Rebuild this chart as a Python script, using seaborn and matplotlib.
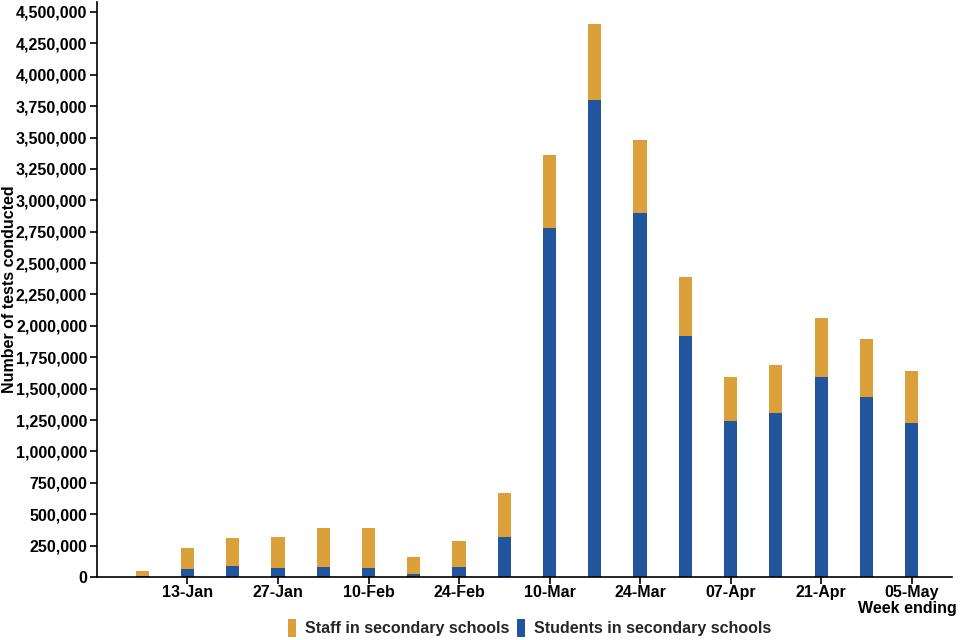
import matplotlib
matplotlib.use("Agg")
import matplotlib.pyplot as plt
import seaborn as sns
import pandas as pd
from matplotlib.patches import Patch
from matplotlib.ticker import FuncFormatter, MultipleLocator

weeks = ["06-Jan", "13-Jan", "20-Jan", "27-Jan", "03-Feb", "10-Feb", "17-Feb", "24-Feb",
         "03-Mar", "10-Mar", "17-Mar", "24-Mar", "31-Mar", "07-Apr", "14-Apr", "21-Apr",
         "28-Apr", "05-May"]
students = [5000, 61000, 88000, 72000, 80000, 75000, 24000, 77000, 316000, 2778000,
            3798000, 2898000, 1916000, 1240000, 1306000, 1590000, 1436000, 1226000]
totals = [45000, 228000, 310000, 316000, 388000, 388000, 159000, 284000, 669000, 3360000,
          4403000, 3479000, 2392000, 1590000, 1691000, 2060000, 1893000, 1638000]
staff = [t - s for t, s in zip(totals, students)]

staff_color = "#DCA03A"
student_color = "#21559E"

sns.set_theme(style="white")
plt.rcParams["font.family"] = ["Liberation Sans", "DejaVu Sans"]
plt.rcParams["font.weight"] = "bold"

df = pd.DataFrame({"week": weeks, "students": students, "staff": staff,
                   "total": [s + f for s, f in zip(students, staff)]})

fig = plt.figure(figsize=(9.6, 6.4), dpi=100)
ax = fig.add_axes([0.101, 0.0984, 0.891, 0.8986])

sns.barplot(data=df, x="week", y="total", color=staff_color, width=0.29,
            saturation=1, ax=ax, order=weeks, linewidth=0, edgecolor="none")
sns.barplot(data=df, x="week", y="students", color=student_color, width=0.29,
            saturation=1, ax=ax, order=weeks, linewidth=0, edgecolor="none")

ax.set_xlim(-1.0, 17.9)
ax.set_ylim(0, 4580000)
ax.yaxis.set_major_locator(MultipleLocator(250000))
ax.yaxis.set_major_formatter(FuncFormatter(lambda v, p: f"{int(v):,}"))

ax.set_xticks(range(1, len(weeks), 2))
ax.set_xticklabels([weeks[i] for i in range(1, len(weeks), 2)])

for sp in ["top", "right"]:
    ax.spines[sp].set_visible(False)
for sp in ["left", "bottom"]:
    ax.spines[sp].set_color("black")
    ax.spines[sp].set_linewidth(1.2)

ax.tick_params(axis="both", which="major", length=5, width=1.2, color="black",
               labelsize=11.5, labelcolor="black", left=True, bottom=True, pad=2)
ax.tick_params(axis="x", pad=1)
for lab in ax.get_xticklabels() + ax.get_yticklabels():
    lab.set_fontweight("bold")

ax.set_xlabel("")
ax.set_ylabel("Number of tests conducted", fontsize=11.5, fontweight="bold",
              color="black")
ax.yaxis.set_label_coords(-0.094, 0.5)

fig.text(0.997, 1 - 609 / 640, "Week ending", ha="right", va="center",
         fontsize=11.5, fontweight="bold", color="black")

handles = [Patch(facecolor=staff_color, edgecolor="none", label="Staff in secondary schools"),
           Patch(facecolor=student_color, edgecolor="none", label="Students in secondary schools")]
fig.legend(handles=handles, loc="center", bbox_to_anchor=(0.552, 1 - 628 / 640), ncol=2,
           frameon=False, handlelength=0.45, handleheight=1.3,
           handletextpad=0.6, columnspacing=0.5, prop={"weight": "bold", "size": 11.5})

fig.savefig("out.png", dpi=100)
